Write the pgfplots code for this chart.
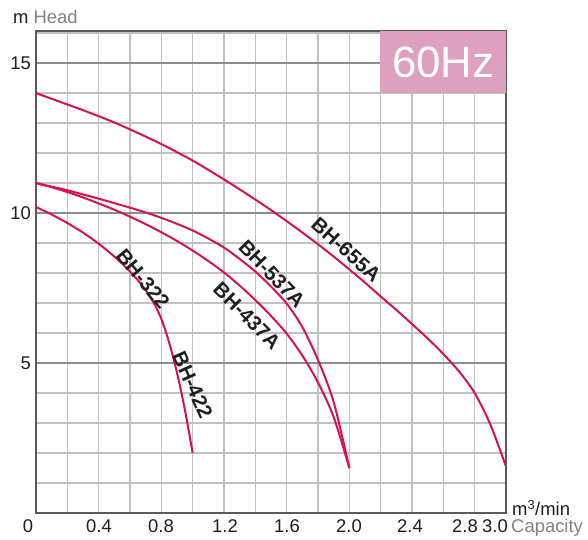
\documentclass[border=0pt]{standalone}
\usepackage{fontspec}
\setmainfont{Liberation Sans}
\usepackage{pgfplots}
\pgfplotsset{compat=1.18}

\definecolor{curve}{RGB}{214,17,78}
\definecolor{gridl}{RGB}{192,192,198}
\definecolor{gridd}{RGB}{140,140,145}
\definecolor{frame}{RGB}{90,90,90}
\definecolor{pinkbox}{RGB}{221,160,190}
\definecolor{lab}{RGB}{130,130,130}
\definecolor{txt}{RGB}{30,30,30}

\newcommand{\tf}{\fontsize{18.5}{18.5}\selectfont}
\newcommand{\lf}{\bfseries\fontsize{20.5}{20.5}\selectfont}
\pgfplotsset{pump/.style={color=curve, line width=2bp, smooth, mark=none}}

\begin{document}
\begin{tikzpicture}[x=1bp,y=1bp]
\useasboundingbox (0,0) rectangle (588,540);
\begin{axis}[
  at={(36bp,27bp)}, anchor=south west,
  scale only axis, width=470bp, height=482bp,
  xmin=0, xmax=3, ymin=0, ymax=16.07,
  axis line style={frame, line width=2bp},
  xtick={0.2,0.4,0.6,0.8,1.0,1.2,1.4,1.6,1.8,2.0,2.2,2.4,2.6,2.8},
  xticklabels={},
  ytick={5,10,15},
  yticklabels={5,10,15},
  minor ytick={1,2,3,4,6,7,8,9,11,12,13,14,16},
  xmajorgrids, ymajorgrids, yminorgrids,
  major x grid style={gridl, line width=1.2bp},
  major y grid style={gridd, line width=1.2bp},
  minor y grid style={gridl, line width=1.2bp},
  major tick length=0pt, minor tick length=0pt,
  yticklabel style={font=\tf, text=txt, inner sep=0pt, xshift=-5bp},
]
% 60Hz badge
\fill[pinkbox] (axis cs:2.198,14) rectangle (axis cs:3,16.07);
\node[white, font=\fontsize{44}{44}\selectfont] at (axis cs:2.6,15.03) {60Hz};

% BH-322 / BH-422
\addplot[pump] coordinates {
  (0,10.2) (0.05,10.08) (0.1,9.95) (0.15,9.81) (0.2,9.67) (0.25,9.51)
  (0.3,9.35) (0.35,9.17) (0.4,8.98) (0.45,8.77) (0.5,8.55) (0.55,8.31)
  (0.6,8.05) (0.65,7.76) (0.7,7.43) (0.75,7.02) (0.8,6.47) (0.85,5.68)
  (0.9,4.68) (0.95,3.45) (1.0,2.0)
};
% BH-437A
\addplot[pump] coordinates {
  (0,11.0) (0.1,10.86) (0.2,10.7) (0.3,10.52) (0.4,10.32) (0.5,10.11)
  (0.6,9.88) (0.7,9.63) (0.8,9.36) (0.9,9.07) (1.0,8.75) (1.1,8.4)
  (1.2,8.02) (1.3,7.58) (1.4,7.1) (1.5,6.57) (1.6,5.98) (1.7,5.25)
  (1.8,4.35) (1.9,3.2) (2.0,1.5)
};
% BH-537A
\addplot[pump] coordinates {
  (0,11.0) (0.1,10.88) (0.2,10.76) (0.3,10.62) (0.4,10.48) (0.5,10.33)
  (0.6,10.18) (0.7,10.02) (0.8,9.84) (0.9,9.64) (1.0,9.42) (1.1,9.15)
  (1.2,8.85) (1.3,8.47) (1.4,8.05) (1.5,7.55) (1.6,6.98) (1.7,6.2)
  (1.8,5.1) (1.9,3.7) (2.0,1.5)
};
% BH-655A
\addplot[pump] coordinates {
  (0,14.0) (0.1,13.81) (0.2,13.62) (0.3,13.43) (0.4,13.23) (0.5,13.02)
  (0.6,12.79) (0.7,12.55) (0.8,12.3) (0.9,12.03) (1.0,11.75) (1.1,11.44)
  (1.2,11.12) (1.3,10.79) (1.4,10.45) (1.5,10.1) (1.6,9.73) (1.7,9.35)
  (1.8,8.96) (1.9,8.55) (2.0,8.12) (2.1,7.68) (2.2,7.22) (2.3,6.77)
  (2.4,6.3) (2.5,5.82) (2.6,5.3) (2.7,4.72) (2.8,4.0) (2.9,2.95) (3.0,1.55)
};

\node[txt, font=\lf, rotate=-42] at (axis cs:1.98,8.77) {BH-655A};
\node[txt, font=\lf, rotate=-46] at (axis cs:1.506,7.97) {BH-537A};
\node[txt, font=\lf, rotate=-45] at (axis cs:1.347,6.57) {BH-437A};
\node[txt, font=\lf, rotate=-50] at (axis cs:0.683,7.8) {BH-322};
\node[txt, font=\lf, rotate=-66] at (axis cs:1.0,4.27) {BH-422};
\end{axis}

% axis titles and x tick labels
\node[anchor=west, inner sep=0pt, font=\tf] at (13,523) {\textcolor{txt}{m} \textcolor{lab}{Head}};
\node[anchor=west, inner sep=0pt, font=\tf, text=txt] at (512,32) {m\textsuperscript{3}/min};
\node[anchor=west, inner sep=0pt, font=\tf, text=lab] at (511,12) {Capacity};
\foreach \px/\t in {28/0, 99/0.4, 161/0.8, 225/1.2, 287/1.6, 349/2.0, 410/2.4, 465/2.8, 495/3.0}
  \node[font=\tf, text=txt, inner sep=0pt] at (\px,14) {\t};
\end{tikzpicture}
\end{document}
